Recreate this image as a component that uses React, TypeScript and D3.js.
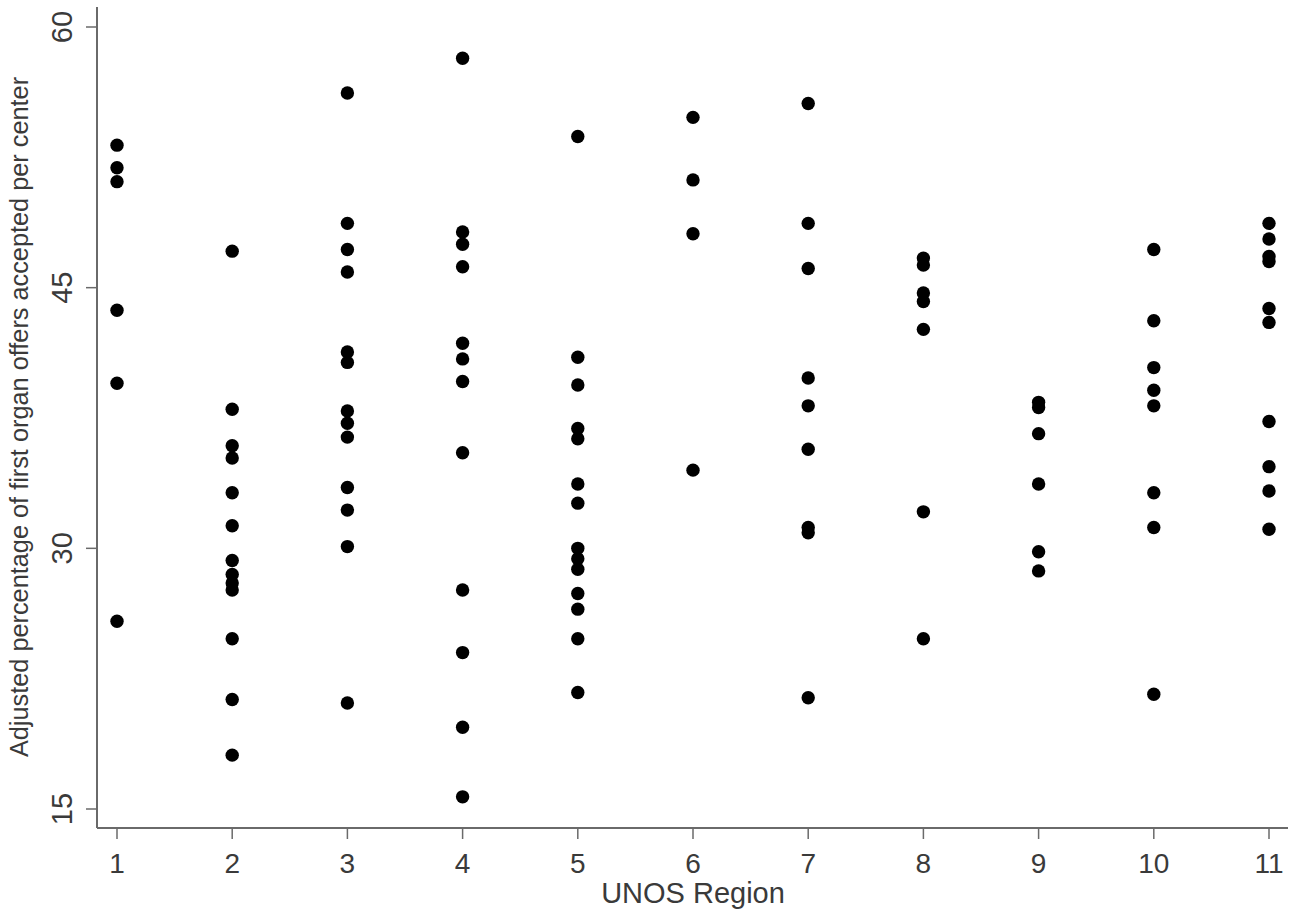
import { scaleLinear } from 'd3'

const width = 1303
const height = 920

// UNOS regions on the x axis
const regions = [1, 2, 3, 4, 5, 6, 7, 8, 9, 10, 11]
const yTicks = [15, 30, 45, 60]

// adjusted % of first organ offers accepted, one value per center
const region1 = [53.2, 51.9, 51.1, 43.7, 39.5, 25.8]
const region2 = [47.1, 38.0, 35.9, 35.2, 33.2, 31.3, 29.3, 28.5, 28.0, 27.6, 24.8, 21.3, 18.1]
const region3 = [56.2, 48.7, 47.2, 45.9, 41.3, 40.7, 37.9, 37.2, 36.4, 33.5, 32.2, 30.1, 21.1]
const region4 = [58.2, 48.2, 47.5, 46.2, 41.8, 40.9, 39.6, 35.5, 27.6, 24.0, 19.7, 15.7]
const region5 = [53.7, 41.0, 39.4, 36.9, 36.3, 33.7, 32.6, 30.0, 29.4, 28.8, 27.4, 26.5, 24.8, 21.7]
const region6 = [54.8, 51.2, 48.1, 34.5]
const region7 = [55.6, 48.7, 46.1, 39.8, 38.2, 35.7, 31.2, 30.9, 21.4]
const region8 = [46.7, 46.3, 44.7, 44.2, 42.6, 32.1, 24.8]
const region9 = [38.4, 38.1, 36.6, 33.7, 29.8, 28.7]
const region10 = [47.2, 43.1, 40.4, 39.1, 38.2, 33.2, 31.2, 21.6]
const region11 = [48.7, 47.8, 46.8, 46.5, 43.8, 43.0, 37.3, 34.7, 33.3, 31.1]

const byRegion = [region1, region2, region3, region4, region5, region6,
  region7, region8, region9, region10, region11]

const axisLeft = 97
const axisRight = 1288
const axisTop = 7
const axisBottom = 828

const axisColor = '#6a6a6a'
const textColor = '#3a3a3a'
const font = '"Liberation Sans", Arial, sans-serif'

function App() {
  const xScale = scaleLinear().domain([1, 11]).range([117, 1269])
  const yScale = scaleLinear().domain([15, 60]).range([809, 27])

  const points = byRegion.flatMap((vals, i) =>
    vals.map(v => ({ region: regions[i], value: v })))

  return (
    <svg width={width} height={height}
      style={{ position: 'absolute', left: 0, top: 0, background: '#fff' }}
      fontFamily={font}>
      {/* y axis */}
      <line x1={axisLeft} x2={axisLeft} y1={axisTop} y2={axisBottom}
        stroke={axisColor} strokeWidth={2} />
      {yTicks.map(t => (
        <g key={t} transform={`translate(${axisLeft},${yScale(t)})`}>
          <line x2={-11} stroke={axisColor} strokeWidth={1.5} />
          <text transform="translate(-25,0) rotate(-90)" textAnchor="middle"
            fontSize={29} fill={textColor}>{t}</text>
        </g>
      ))}
      {/* x axis */}
      <line x1={axisLeft} x2={axisRight} y1={axisBottom} y2={axisBottom}
        stroke={axisColor} strokeWidth={2} />
      {regions.map(r => (
        <g key={r} transform={`translate(${xScale(r)},${axisBottom})`}>
          <line y2={11} stroke={axisColor} strokeWidth={1.5} />
          <text y={45} textAnchor="middle" fontSize={28} fill={textColor}>{r}</text>
        </g>
      ))}
      <text x={693} y={903} textAnchor="middle" fontSize={29} fill={textColor}>
        UNOS Region
      </text>
      <text transform="translate(28,417) rotate(-90)" textAnchor="middle"
        fontSize={25.3} fill={textColor}>
        Adjusted percentage of first organ offers accepted per center
      </text>
      {points.map((p, i) => (
        <circle key={i} cx={xScale(p.region)} cy={yScale(p.value)} r={6.7} fill="#000" />
      ))}
    </svg>
  )
}

export default App
